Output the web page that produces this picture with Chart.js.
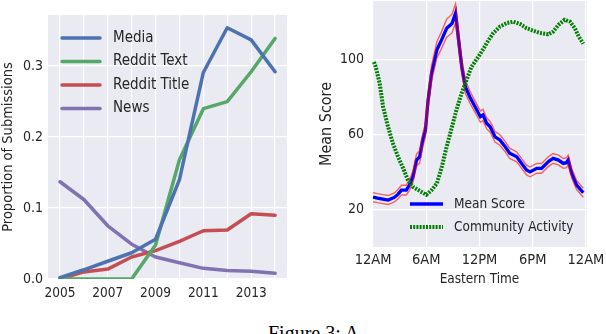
<!DOCTYPE html>
<html>
<head>
<meta charset="utf-8">
<script src="https://cdn.jsdelivr.net/npm/chart.js@4.4.1/dist/chart.umd.min.js"></script>
<style>
  html, body { margin: 0; padding: 0; background: #fff; }
  body { width: 606px; height: 334px; position: relative; overflow: hidden; }
  canvas { position: absolute; top: 0; }
  #left { left: 0; }
  #right { left: 300px; }
  #caption {
    position: absolute; left: 268px; top: 322px;
    font-family: 'Liberation Serif', serif; font-size: 20px; color: #000;
    white-space: nowrap;
  }
</style>
</head>
<body>
<canvas id="left" width="300" height="305"></canvas>
<canvas id="right" width="306" height="300"></canvas>
<div id="caption">Figure 3: A</div>

<script>
// ========================================
// DATA - left panel (proportion of submissions)
// ========================================
const years = [2005, 2006, 2007, 2008, 2009, 2010, 2011, 2012, 2013, 2014];
const yearTicks = [2005, 2007, 2009, 2011, 2013];
const media       = [0.002, 0.013, 0.025, 0.037, 0.056, 0.140, 0.291, 0.354, 0.337, 0.292];
const redditText  = [0.000, 0.000, 0.000, 0.000, 0.048, 0.168, 0.240, 0.250, 0.292, 0.339];
const redditTitle = [0.000, 0.010, 0.014, 0.031, 0.040, 0.053, 0.068, 0.069, 0.092, 0.090];
const news        = [0.137, 0.112, 0.075, 0.049, 0.031, 0.023, 0.015, 0.012, 0.011, 0.008];
const propTicks = [0, 0.1, 0.2, 0.3];

// ========================================
// DATA - right panel (mean score by hour)
// ========================================
const scoreHours = [0.0, 0.5, 1.1, 1.7, 2.4, 2.8, 3.2, 3.75, 4.1, 4.5, 4.9, 5.25, 5.6, 5.9,
                    6.2, 6.6, 7.2, 7.7, 8.3, 8.9, 9.3, 9.6, 10.0, 10.4, 10.9, 11.5,
                    12.1, 12.4, 12.8, 13.2, 13.75, 14.3, 14.9, 15.4, 16.2, 16.75, 17.3, 17.7,
                    18.45, 19.0, 19.75, 20.3, 20.9, 21.45, 21.8, 22.0, 22.4, 22.95, 23.7];
const meanScore  = [26.5, 26.0, 25.5, 25.0, 26.4, 28.0, 30.3, 30.3, 33.0, 37.4, 46.3, 48.0, 57.0, 62.0,
                    78.0, 92.6, 105.0, 110.0, 116.5, 119.0, 124.5, 112.0, 96.0, 85.4, 80.0, 74.7,
                    69.4, 70.3, 65.9, 64.0, 58.7, 57.0, 53.4, 49.9, 48.0, 44.5, 41.0, 40.0,
                    41.9, 41.9, 45.4, 47.2, 46.3, 44.5, 44.9, 46.3, 39.2, 33.0, 28.9];
const scoreErr   = [2.4, 2.4, 2.4, 2.4, 2.4, 2.5, 2.6, 2.6, 2.8, 3.0, 3.2, 3.3, 3.5, 3.6,
                    3.8, 4.0, 4.3, 4.5, 4.8, 5.0, 5.0, 4.6, 4.0, 3.5, 3.2, 3.0,
                    3.0, 3.0, 2.9, 2.9, 2.8, 2.8, 2.7, 2.7, 2.6, 2.6, 2.6, 2.6,
                    2.6, 2.6, 2.6, 2.6, 2.6, 2.6, 2.6, 2.6, 2.5, 2.4, 2.4];
const actHours = [0.1, 0.3, 0.75, 1.13, 1.69, 2.25, 2.82, 3.38, 3.94, 4.51, 5.26, 6.0, 6.6, 7.2,
                  7.75, 8.3, 8.9, 9.4, 10.0, 10.55, 11.1, 11.9, 12.5, 12.8, 13.55, 14.3, 15.05,
                  15.8, 16.55, 17.3, 18.05, 18.8, 19.75, 20.3, 20.9, 21.6, 22.2, 22.75, 23.2, 23.7];
const activity = [98.5, 96.0, 87.0, 74.7, 64.0, 55.0, 48.0, 42.0, 35.6, 32.0, 29.9, 27.8, 30.3, 33.9,
                  42.7, 53.4, 64.0, 73.0, 82.0, 89.0, 96.0, 101.5, 106.0, 108.5, 113.9, 117.4, 119.2,
                  120.0, 118.8, 116.5, 115.2, 114.0, 113.3, 114.7, 118.3, 121.0, 120.0, 116.5, 112.0, 108.2];
const hourTicks = [0, 6, 12, 18, 24];
const hourLabels = ['12AM', '6AM', '12PM', '6PM', '12AM'];
const scoreTicks = [20, 60, 100];

// ========================================
// SHARED STYLE
// ========================================
const FONT = "'DejaVu Sans Condensed', 'DejaVu Sans', sans-serif";
const TEXT = '#262626';
Chart.defaults.font.family = FONT;
Chart.defaults.color = TEXT;

// grey plot background (seaborn darkgrid look)
const plotBg = {
    id: 'plotBg',
    beforeDraw(chart) {
        const a = chart.chartArea, ctx = chart.ctx;
        ctx.save();
        ctx.fillStyle = '#EAEAF2';
        ctx.fillRect(a.left, a.top, a.right - a.left, a.bottom - a.top);
        ctx.restore();
    }
};

// legend drawn inside the plot area
const innerLegend = {
    id: 'innerLegend',
    afterDraw(chart, args, opts) {
        const a = chart.chartArea, ctx = chart.ctx;
        ctx.save();
        ctx.font = opts.size + 'px ' + FONT;
        ctx.fillStyle = TEXT;
        ctx.textBaseline = 'middle';
        opts.items.forEach((idx, i) => {
            const ds = chart.data.datasets[idx];
            const y = a.top + opts.y + i * opts.gap;
            const x = a.left + opts.x;
            ctx.beginPath();
            ctx.strokeStyle = ds.borderColor;
            ctx.lineWidth = ds.borderWidth;
            ctx.lineCap = ds.borderCapStyle || 'butt';
            ctx.setLineDash(ds.borderDash || []);
            ctx.moveTo(x, y);
            ctx.lineTo(x + opts.len, y);
            ctx.stroke();
            ctx.setLineDash([]);
            ctx.fillText(ds.label, x + opts.len + opts.textGap, y);
        });
        ctx.restore();
    }
};

function pts(xs, ys) {
    return xs.map((x, i) => ({ x: x, y: ys[i] }));
}

function fixTicks(values) {
    return function(scale) {
        scale.ticks = values.map(v => ({ value: v }));
    };
}

// pin the axis box size and drop the label overhang padding
function boxSize(key, size) {
    return function(scale) {
        scale[key] = size;
        scale.paddingTop = 0;
        scale.paddingBottom = 0;
        scale.paddingLeft = 0;
        scale.paddingRight = 0;
    };
}

// ========================================
// LEFT CHART
// ========================================
function seriesLine(label, values, color) {
    return {
        label: label,
        data: pts(years, values),
        borderColor: color,
        borderWidth: 3.5,
        borderCapStyle: 'round',
        borderJoinStyle: 'round',
        pointRadius: 0,
        tension: 0
    };
}

new Chart(document.getElementById('left'), {
    type: 'line',
    data: {
        datasets: [
            seriesLine('Media', media, '#4C72B0'),
            seriesLine('Reddit Text', redditText, '#55A868'),
            seriesLine('Reddit Title', redditTitle, '#C44E52'),
            seriesLine('News', news, '#8172B2')
        ]
    },
    options: {
        responsive: false,
        animation: false,
        layout: { padding: { top: 15, right: 13, left: 0, bottom: 0 } },
        plugins: {
            legend: { display: false },
            tooltip: { enabled: false },
            innerLegend: { items: [0, 1, 2, 3], x: 14, y: 23, gap: 23.5, len: 38, textGap: 13, size: 15 }
        },
        scales: {
            x: {
                type: 'linear',
                min: 2004.5,
                max: 2014.5,
                afterBuildTicks: fixTicks(years),
                afterFit: boxSize('height', 26),
                border: { display: false },
                grid: { color: '#FFFFFF', lineWidth: 1.2, drawTicks: false },
                ticks: {
                    padding: 6,
                    font: { size: 13.5 },
                    maxRotation: 0,
                    autoSkip: false,
                    callback: v => yearTicks.includes(v) ? String(v) : ''
                }
            },
            y: {
                min: 0,
                max: 0.372,
                afterBuildTicks: fixTicks(propTicks),
                afterFit: boxSize('width', 48),
                border: { display: false },
                grid: { color: '#FFFFFF', lineWidth: 1.2, drawTicks: false },
                ticks: {
                    padding: 5,
                    font: { size: 14 },
                    callback: v => v.toFixed(1)
                },
                title: {
                    display: true,
                    text: 'Proportion of Submissions',
                    font: { size: 14.5 },
                    padding: { top: 0, bottom: 4 }
                }
            }
        }
    },
    plugins: [plotBg, innerLegend]
});

// ========================================
// RIGHT CHART
// ========================================
const bandStyle = {
    borderColor: 'rgba(255, 0, 0, 0.6)',
    borderWidth: 1.4,
    pointRadius: 0,
    tension: 0
};

new Chart(document.getElementById('right'), {
    type: 'line',
    data: {
        datasets: [
            {
                label: 'Community Activity',
                data: pts(actHours, activity),
                borderColor: '#008000',
                borderWidth: 4,
                borderDash: [2, 1.2],
                pointRadius: 0,
                tension: 0
            },
            Object.assign({ label: 'upper', data: pts(scoreHours, meanScore.map((v, i) => v + scoreErr[i])) }, bandStyle),
            Object.assign({ label: 'lower', data: pts(scoreHours, meanScore.map((v, i) => v - scoreErr[i])) }, bandStyle),
            {
                label: 'Mean Score',
                data: pts(scoreHours, meanScore),
                borderColor: '#0000FF',
                borderWidth: 3.3,
                pointRadius: 0,
                tension: 0
            }
        ]
    },
    options: {
        responsive: false,
        animation: false,
        layout: { padding: { top: 1, right: 19, left: 17, bottom: 12 } },
        plugins: {
            legend: { display: false },
            tooltip: { enabled: false },
            innerLegend: { items: [3, 0], x: 38, y: 203, gap: 23, len: 33, textGap: 11, size: 13.5 }
        },
        scales: {
            x: {
                type: 'linear',
                min: -0.12,
                max: 24.12,
                afterBuildTicks: fixTicks(hourTicks),
                afterFit: boxSize('height', 41),
                border: { display: false },
                grid: { color: '#FFFFFF', lineWidth: 1.2, drawTicks: false },
                ticks: {
                    padding: 5,
                    font: { size: 14.5 },
                    maxRotation: 0,
                    autoSkip: false,
                    callback: v => hourLabels[hourTicks.indexOf(v)]
                },
                title: {
                    display: true,
                    text: 'Eastern Time',
                    font: { size: 13.5 },
                    padding: { top: 2, bottom: 0 }
                }
            },
            y: {
                min: 0,
                max: 131,
                afterBuildTicks: fixTicks(scoreTicks),
                afterFit: boxSize('width', 55),
                border: { display: false },
                grid: { color: '#FFFFFF', lineWidth: 1.2, drawTicks: false },
                ticks: {
                    padding: 8,
                    font: { size: 14 }
                },
                title: {
                    display: true,
                    text: 'Mean Score',
                    font: { size: 16 },
                    padding: { top: 0, bottom: 12 }
                }
            }
        }
    },
    plugins: [plotBg, innerLegend]
});
</script>
</body>
</html>
